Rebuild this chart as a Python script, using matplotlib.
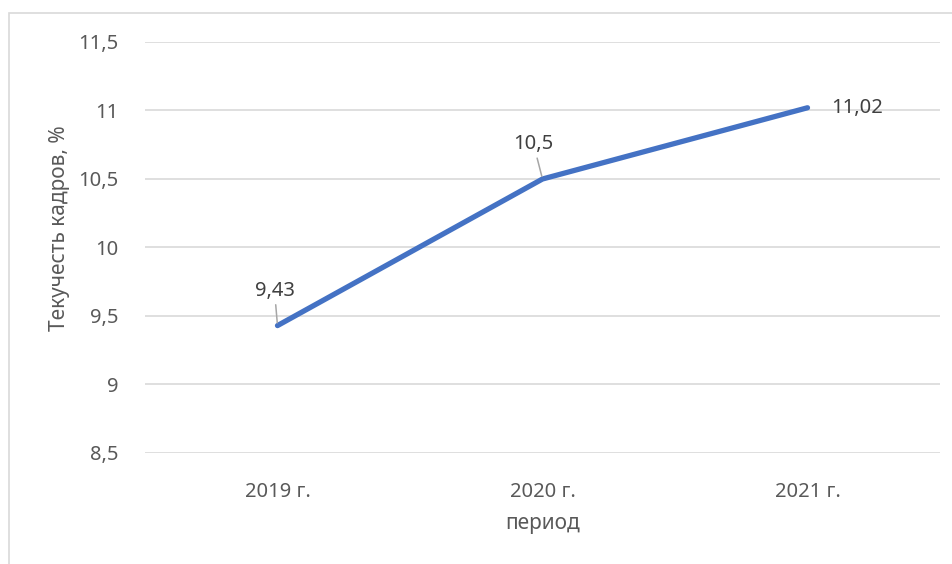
import matplotlib
matplotlib.use("Agg")
import matplotlib.pyplot as plt
from matplotlib.patches import Rectangle

# данные графика
periods = ["2019 г.", "2020 г.", "2021 г."]
turnover = [9.43, 10.5, 11.02]
turnover_labels = ["9,43", "10,5", "11,02"]
y_ticks = [8.5, 9, 9.5, 10, 10.5, 11, 11.5]
y_tick_labels = ["8,5", "9", "9,5", "10", "10,5", "11", "11,5"]

plt.rcParams["font.family"] = ["Noto Sans", "DejaVu Sans"]

W, H = 953, 564
fig = plt.figure(figsize=(W / 100, H / 100), dpi=100)

# рамка области диаграммы (как в Excel)
fig.patches.append(Rectangle((9.5 / W, -0.1), 1.2, (H - 12.5) / H + 0.1,
                             transform=fig.transFigure, fill=False,
                             edgecolor="#d9d9d9", lw=1.2))

ax = fig.add_axes([145 / W, 111 / H, 795 / W, 411 / H])
x = list(range(len(periods)))
ax.plot(x, turnover, color="#4472C4", lw=3.8, solid_capstyle="round",
        solid_joinstyle="round", zorder=3)

ax.set_xlim(-0.5, 2.5)
ax.set_ylim(8.5, 11.5)
ax.set_yticks(y_ticks)
ax.set_yticklabels(y_tick_labels)
ax.set_xticks(x)
ax.set_xticklabels(periods)
ax.grid(axis="y", color="#d9d9d9", lw=1.2)
ax.set_axisbelow(True)
for s in ax.spines.values():
    s.set_visible(False)
ax.tick_params(length=0, labelsize=14.5, colors="#595959")
ax.tick_params(axis="y", pad=19)
ax.tick_params(axis="x", pad=21)

# подписи данных (с выносными линиями, как в Excel)
offsets = [(-3, 35), (-9, 35), (24, 0)]
for i, (val, lab, off) in enumerate(zip(turnover, turnover_labels, offsets)):
    if off[1] > 0:
        ax.annotate(lab, (i, val), xytext=off, textcoords="offset pixels",
                    ha="center", va="center", fontsize=14.5, color="#404040",
                    arrowprops=dict(arrowstyle="-", color="#a6a6a6", lw=1.1,
                                    shrinkA=1, shrinkB=2))
    else:
        ax.annotate(lab, (i, val), xytext=off, textcoords="offset pixels",
                    ha="left", va="center", fontsize=14.5, color="#404040")

fig.text(60 / W, 1 - 228 / H, "Текучесть кадров, %", rotation=90,
         ha="center", va="center", fontsize=15, color="#595959")
fig.text(543 / W, 1 - 523 / H, "период", ha="center", va="center",
         fontsize=15, color="#595959")

fig.savefig("out.png", dpi=100)
